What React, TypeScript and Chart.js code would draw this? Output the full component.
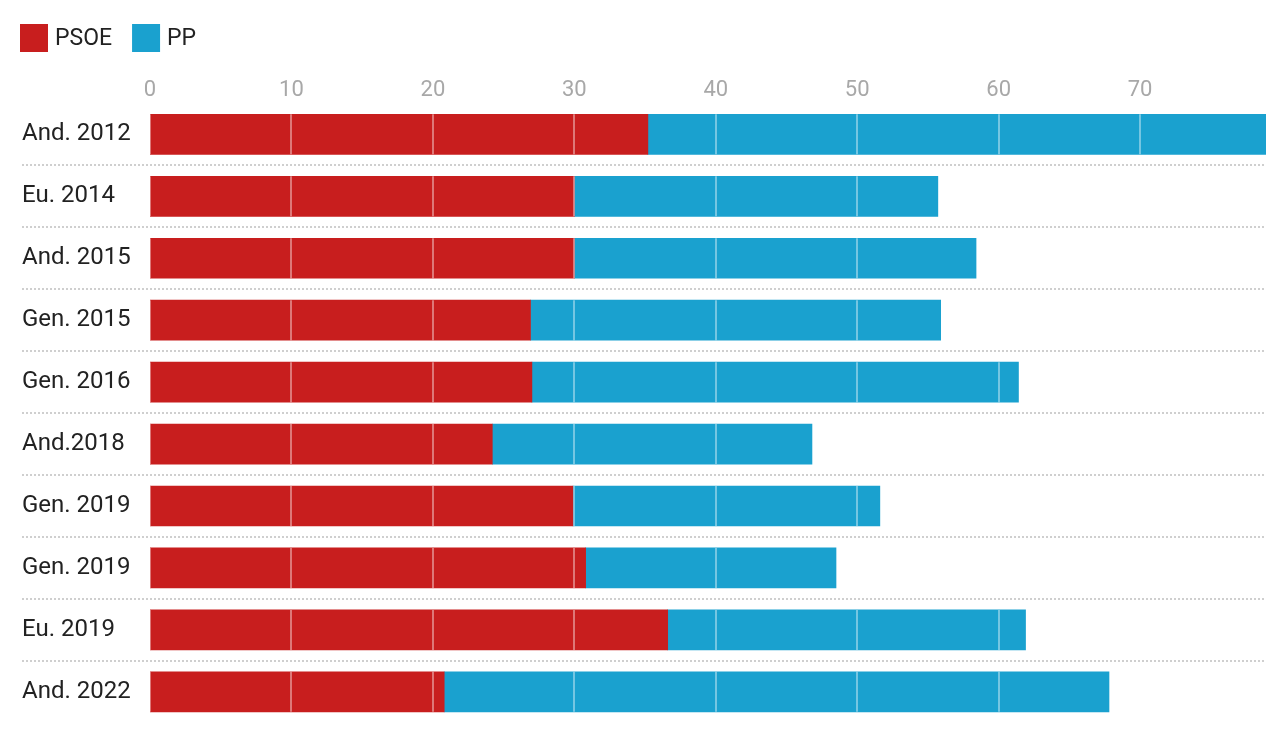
import React, { useEffect, useRef } from "react";
import { Chart, registerables } from "chart.js";

Chart.register(...registerables);

const categories = [
  "And. 2012",
  "Eu. 2014",
  "And. 2015",
  "Gen. 2015",
  "Gen. 2016",
  "And.2018",
  "Gen. 2019",
  "Gen. 2019",
  "Eu. 2019",
  "And. 2022",
];
const psoeValues = [35.2, 30.0, 30.0, 26.9, 27.0, 24.2, 29.9, 30.8, 36.6, 20.8];
const ppValues = [43.7, 25.7, 28.4, 29.0, 34.4, 22.6, 21.7, 17.7, 25.3, 47.0];
const seriesNames = ["PSOE", "PP"];
const seriesColors = ["#C81E1E", "#1AA1CF"];
const tickStep = 10;

const FONT = "Roboto, 'Noto Sans', sans-serif";

const separatorPlugin = {
  id: "separators",
  beforeDatasetsDraw(chart: any) {
    const { ctx, chartArea } = chart;
    const y = chart.scales.y;
    ctx.save();
    ctx.strokeStyle = "#cfcfcf";
    ctx.lineWidth = 2;
    ctx.setLineDash([2, 2]);
    for (let i = 0; i < categories.length - 1; i++) {
      const py = Math.round((y.getPixelForValue(i) + y.getPixelForValue(i + 1)) / 2);
      ctx.beginPath();
      ctx.moveTo(14, py);
      ctx.lineTo(chartArea.right, py);
      ctx.stroke();
    }
    ctx.restore();
  },
};

const overGridPlugin = {
  id: "overGrid",
  afterDatasetsDraw(chart: any) {
    const { ctx } = chart;
    const x = chart.scales.x;
    const meta = chart.getDatasetMeta(0);
    ctx.save();
    ctx.strokeStyle = "rgba(255,255,255,0.4)";
    ctx.lineWidth = 2;
    x.ticks.forEach((t: any) => {
      const px = Math.round(x.getPixelForValue(t.value));
      meta.data.forEach((bar: any) => {
        const h = bar.height;
        ctx.beginPath();
        ctx.moveTo(px, bar.y - h / 2);
        ctx.lineTo(px, bar.y + h / 2);
        ctx.stroke();
      });
    });
    ctx.restore();
  },
};

const legendPlugin = {
  id: "customLegend",
  afterDraw(chart: any) {
    const { ctx } = chart;
    ctx.save();
    ctx.font = `23px ${FONT}`;
    ctx.textBaseline = "middle";
    ctx.textAlign = "left";
    let x = 12;
    const top = 16;
    const size = 28;
    seriesNames.forEach((name, i) => {
      ctx.fillStyle = seriesColors[i];
      ctx.fillRect(x, top, size, size);
      ctx.fillStyle = "#222";
      ctx.fillText(name, x + size + 7, top + size / 2 + 1);
      x += size + 7 + ctx.measureText(name).width + 20;
    });
    ctx.restore();
  },
};

export default function App() {
  const ref = useRef<HTMLCanvasElement | null>(null);

  useEffect(() => {
    if (!ref.current) return;
    const maxTotal = Math.max(...psoeValues.map((v, i) => v + ppValues[i]));
    const chart = new Chart(ref.current, {
      type: "bar",
      data: {
        labels: categories,
        datasets: [
          {
            label: seriesNames[0],
            data: psoeValues,
            backgroundColor: seriesColors[0],
            barThickness: 40,
          },
          {
            label: seriesNames[1],
            data: ppValues,
            backgroundColor: seriesColors[1],
            barThickness: 40,
          },
        ],
      },
      options: {
        indexAxis: "y",
        animation: false,
        responsive: true,
        maintainAspectRatio: false,
        layout: { padding: { top: 69, left: 14, right: 14, bottom: 0 } },
        plugins: {
          legend: { display: false },
          tooltip: { enabled: false },
        },
        scales: {
          x: {
            position: "top",
            stacked: true,
            min: 0,
            max: maxTotal,
            grid: { display: false, drawTicks: false },
            border: { display: false },
            afterBuildTicks(scale: any) {
              scale.ticks = scale.ticks.filter((t: any) => t.value % tickStep === 0);
            },
            ticks: {
              stepSize: tickStep,
              color: "#a8a8a8",
              padding: 0,
              font: { family: FONT, size: 22 },
            },
          },
          y: {
            stacked: true,
            grid: { display: false, drawTicks: false },
            border: { display: false },
            afterFit(scale: any) {
              scale.width = 128;
            },
            ticks: {
              crossAlign: "far",
              color: "#222",
              font: { family: FONT, size: 24, lineHeight: 0.1 },
            },
          },
        },
      },
      plugins: [separatorPlugin, overGridPlugin, legendPlugin],
    });
    return () => chart.destroy();
  }, []);

  return (
    <div style={{ position: "relative", width: "100%", height: 719, marginBottom: -3 }}>
      <canvas ref={ref} />
    </div>
  );
}
